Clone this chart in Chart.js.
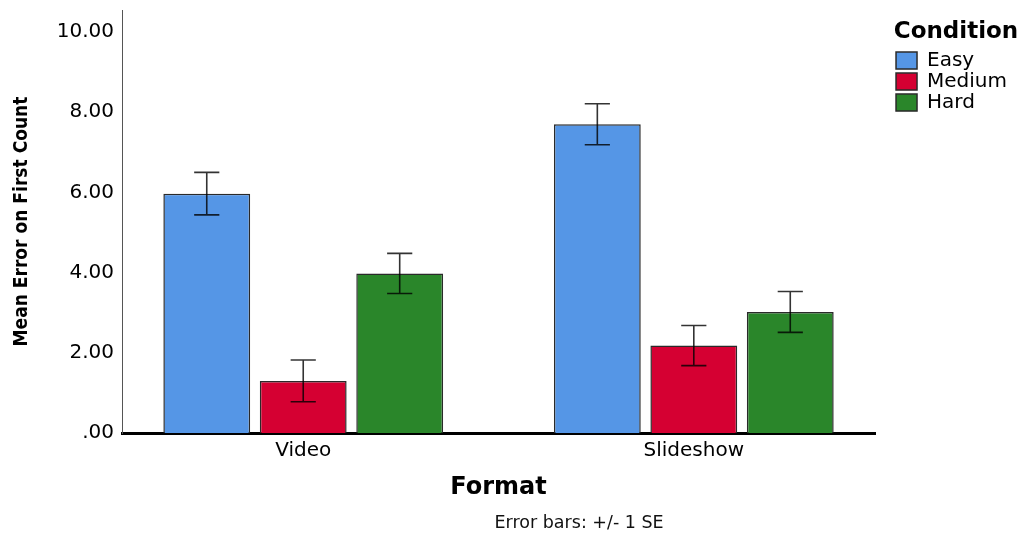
<!DOCTYPE html>
<html>
<head>
<meta charset="utf-8">
<title>Mean Error on First Count</title>
<script src="https://cdn.jsdelivr.net/npm/chart.js@4.4.1/dist/chart.umd.min.js"></script>
<style>
  html, body { margin: 0; padding: 0; background: #fff; }
  #wrap { width: 1021px; height: 534px; }
</style>
</head>
<body>
<div id="wrap"><canvas id="errorChart"></canvas></div>
<script>
// data
const formats = ['Video', 'Slideshow'];
const conditions = ['Easy', 'Medium', 'Hard'];
const easyMean = [5.97, 7.70];
const mediumMean = [1.30, 2.18];
const hardMean = [3.98, 3.02];
const easySE = [0.53, 0.51];
const mediumSE = [0.52, 0.50];
const hardSE = [0.50, 0.51];
const yTicks = [0, 2, 4, 6, 8, 10];

const colours = ['#5596e6', '#d50032', '#2a862a'];
const means = [easyMean, mediumMean, hardMean];
const errors = [easySE, mediumSE, hardSE];

const sans = "'DejaVu Sans', Verdana, sans-serif";

// draws the +/- 1 SE whiskers on top of every bar
const errorBars = {
    id: 'errorBars',
    afterDatasetsDraw(chart) {
        const ctx = chart.ctx;
        const y = chart.scales.y;
        ctx.save();
        ctx.strokeStyle = 'rgba(0,0,0,0.8)';
        ctx.lineWidth = 1.6;
        chart.data.datasets.forEach((ds, i) => {
            chart.getDatasetMeta(i).data.forEach((bar, j) => {
                const m = ds.data[j];
                const se = errors[i][j];
                const top = y.getPixelForValue(m + se);
                const bottom = y.getPixelForValue(m - se);
                const half = bar.width * 0.145;
                ctx.beginPath();
                ctx.moveTo(bar.x, top);
                ctx.lineTo(bar.x, bottom);
                ctx.moveTo(bar.x - half, top);
                ctx.lineTo(bar.x + half, top);
                ctx.moveTo(bar.x - half, bottom);
                ctx.lineTo(bar.x + half, bottom);
                ctx.stroke();
            });
        });
        ctx.restore();
    }
};

// footnote under the axis title
const footnote = {
    id: 'footnote',
    afterDraw(chart) {
        const ctx = chart.ctx;
        const area = chart.chartArea;
        ctx.save();
        ctx.font = "17.5px " + sans;
        ctx.fillStyle = '#111';
        ctx.textAlign = 'center';
        ctx.textBaseline = 'middle';
        ctx.fillText('Error bars: +/- 1 SE', area.left + area.width * 0.607, chart.height - 11);
        ctx.restore();
    }
};

// leave a gap between the plot and the legend
const legendGap = {
    id: 'legendGap',
    afterInit(chart) {
        const fit = chart.legend.fit;
        chart.legend.fit = function () {
            fit.call(this);
            this.width += 20;
        };
    },
    afterLayout(chart) {
        chart.legend.left += 20;
        chart.legend.width -= 20;
    }
};

const data = {
    labels: formats,
    datasets: conditions.map((c, i) => ({
        label: c,
        data: means[i],
        backgroundColor: colours[i],
        borderColor: '#2a2a2a',
        borderWidth: 1.5,
        borderSkipped: 'bottom',
        categoryPercentage: 0.741,
        barPercentage: 0.90
    }))
};

const config = {
    type: 'bar',
    data: data,
    options: {
        responsive: true,
        maintainAspectRatio: false,
        animation: false,
        layout: { padding: { left: 9, top: 10, right: 4, bottom: 20 } },
        plugins: {
            tooltip: { enabled: false },
            legend: {
                position: 'right',
                align: 'start',
                title: {
                    display: true,
                    text: 'Condition',
                    color: '#000',
                    font: { family: sans, size: 23, weight: 'bold' },
                    padding: { top: 11, bottom: 1 }
                },
                labels: {
                    color: '#000',
                    font: { family: sans, size: 20 },
                    boxWidth: 21,
                    boxHeight: 17,
                    padding: 1
                }
            }
        },
        scales: {
            x: {
                offset: true,
                grid: { display: false, drawTicks: false },
                border: { color: '#000', width: 3 },
                ticks: { color: '#000', font: { family: sans, size: 20 }, padding: 6 },
                title: {
                    display: true,
                    text: 'Format',
                    color: '#000',
                    font: { family: sans, size: 24, weight: 'bold' },
                    padding: { top: 10, bottom: 12 }
                },
                // spread the two groups the way SPSS does
                afterBuildTicks: s => { s._startValue = -0.464; s._valueRange = 1.928; },
                afterFit: s => { s.height = 81; }
            },
            y: {
                min: 0,
                max: 10.55,
                grid: { display: false, drawTicks: false },
                border: { color: '#555', width: 1 },
                ticks: {
                    stepSize: 2,
                    color: '#000',
                    font: { family: sans, size: 20 },
                    padding: 8,
                    callback: v => v === 0 ? '.00' : v.toFixed(2)
                },
                afterBuildTicks: s => { s.ticks = yTicks.map(v => ({ value: v })); },
                title: {
                    display: true,
                    text: 'Mean Error on First Count',
                    color: '#000',
                    font: { family: "'DejaVu Sans Condensed', 'DejaVu Sans', sans-serif", size: 19, weight: 'bold' },
                    padding: { top: 2, bottom: 10 }
                },
                afterFit: s => {
                    s.width = 113;
                    s.paddingTop = 0;
                }
            }
        }
    },
    plugins: [errorBars, footnote, legendGap]
};

const myChart = new Chart(document.getElementById('errorChart'), config);
</script>
</body>
</html>
